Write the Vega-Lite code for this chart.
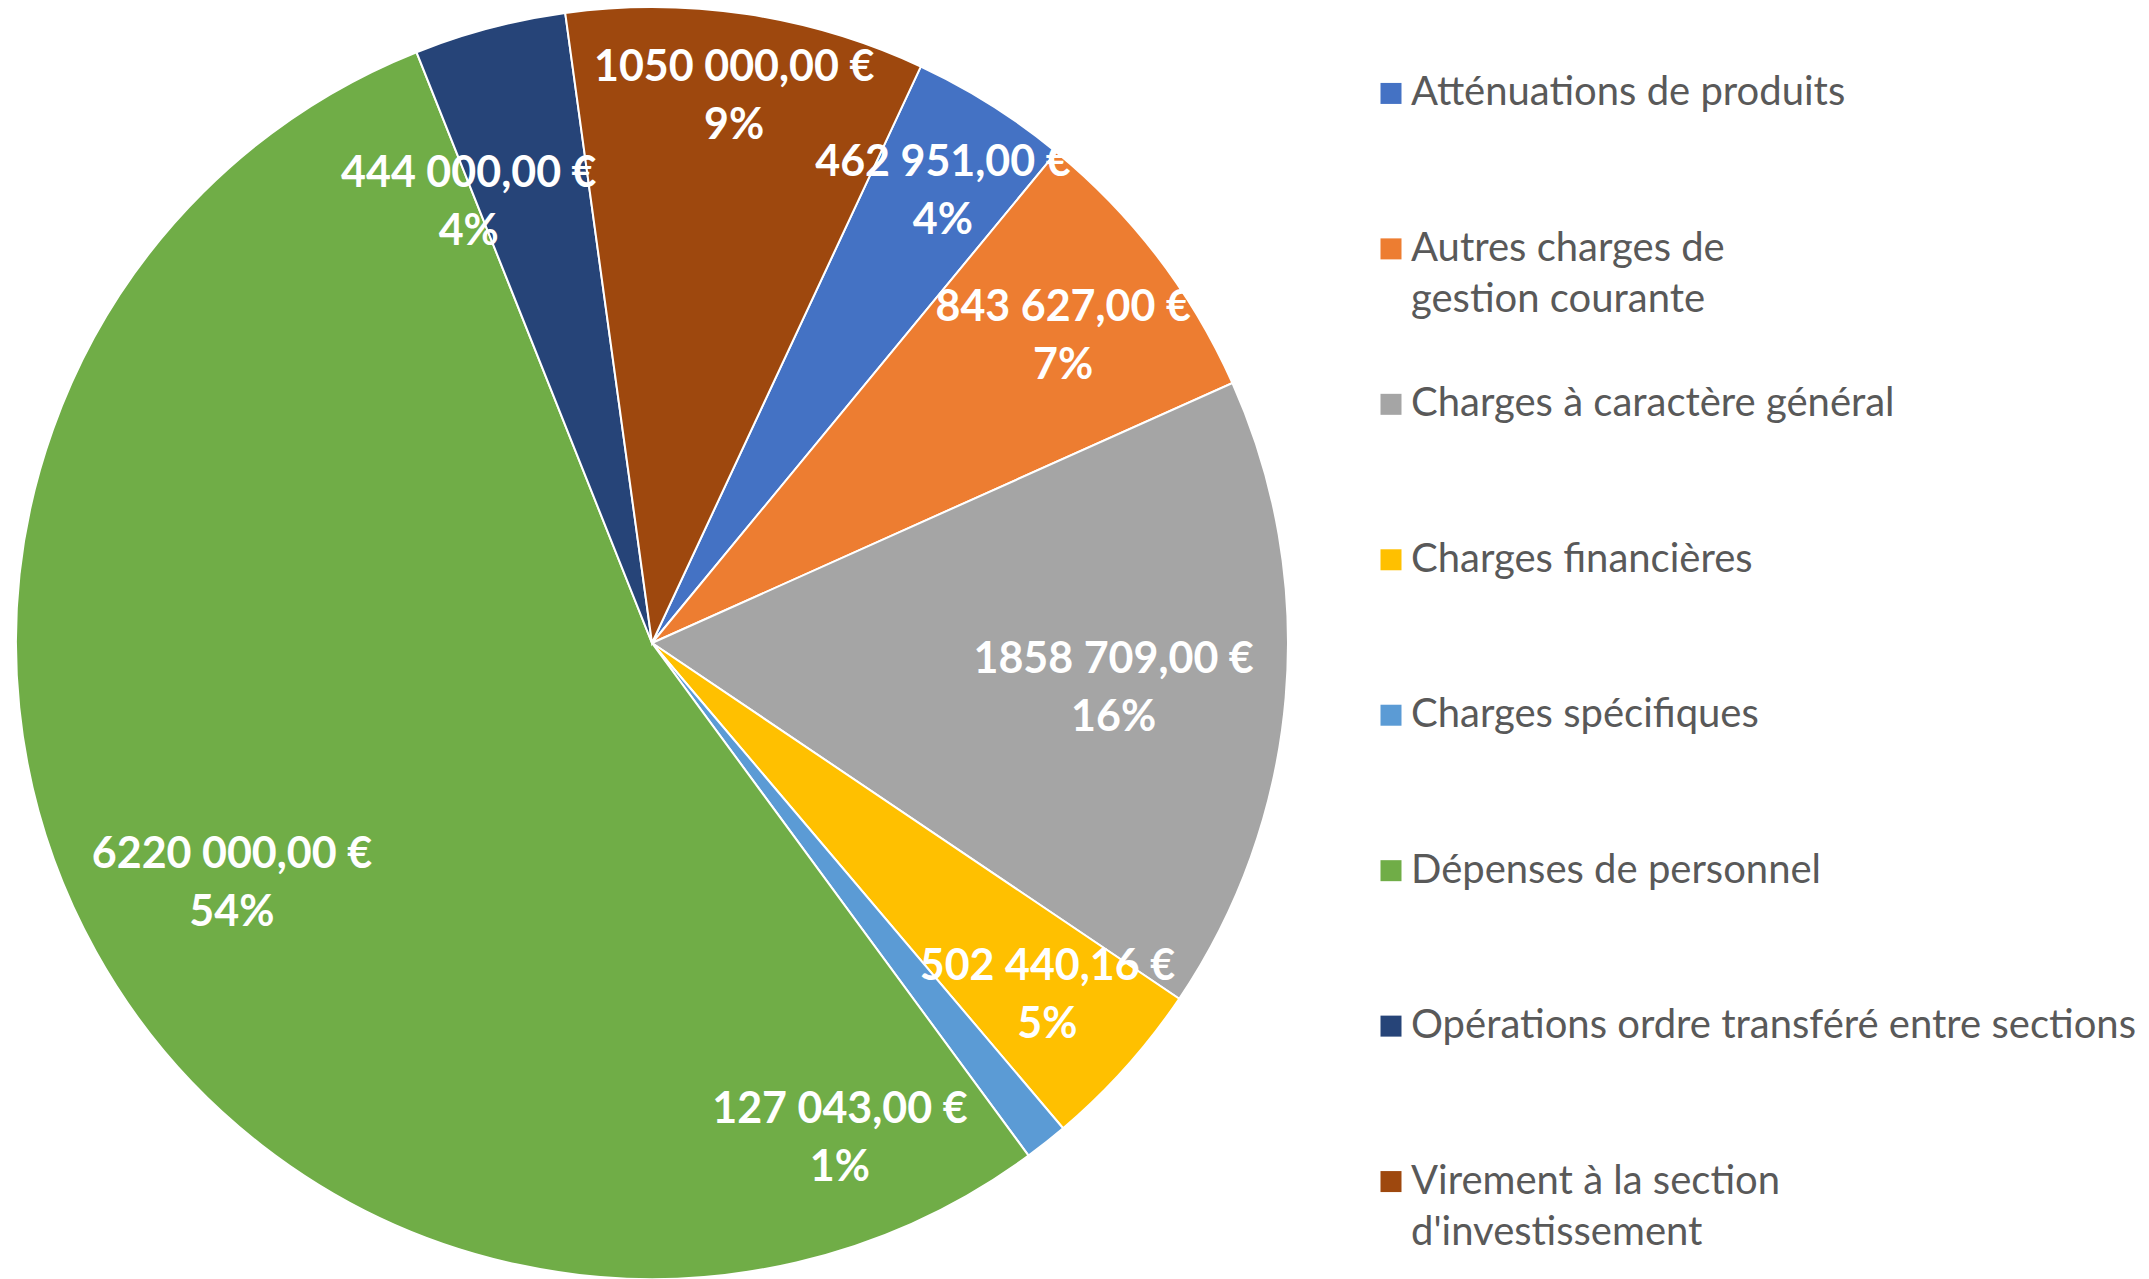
{
  "$schema": "https://vega.github.io/schema/vega-lite/v6.json",
  "background": "white",
  "padding": {"left": 12, "top": 3, "right": 0, "bottom": 0},
  "bounds": "flush",
  "spacing": 92,
  "config": {"view": {"stroke": null}, "font": "Lato", "text": {"font": "Lato", "fontWeight": "bold", "fontSize": 43, "lineHeight": 58, "color": "white", "baseline": "line-bottom", "align": "center"}},
  "data": {
    "values": [
      {"order": 1, "cat": "Atténuations de produits", "value": 462951, "label": ["462 951,00 €", "4%"], "legend": "Atténuations de produits"},
      {"order": 2, "cat": "Autres charges de gestion courante", "value": 843627, "label": ["843 627,00 €", "7%"], "legend": ["Autres charges de", "gestion courante"]},
      {"order": 3, "cat": "Charges à caractère général", "value": 1858709, "label": ["1858 709,00 €", "16%"], "legend": "Charges à caractère général"},
      {"order": 4, "cat": "Charges financières", "value": 502440.16, "label": ["502 440,16 €", "5%"], "legend": "Charges financières"},
      {"order": 5, "cat": "Charges spécifiques", "value": 127043, "label": ["127 043,00 €", "1%"], "legend": "Charges spécifiques"},
      {"order": 6, "cat": "Dépenses de personnel", "value": 6220000, "label": ["6220 000,00 €", "54%"], "legend": "Dépenses de personnel"},
      {"order": 7, "cat": "Opérations ordre transféré entre sections", "value": 444000, "label": ["444 000,00 €", "4%"], "legend": "Opérations ordre transféré entre sections"},
      {"order": 8, "cat": "Virement à la section d'investissement", "value": 1050000, "label": ["1050 000,00 €", "9%"], "legend": ["Virement à la section", "d'investissement"]}
    ]
  },
  "hconcat": [
    {
      "width": 1272,
      "height": 1272,
      "encoding": {
        "theta": {"field": "value", "type": "quantitative", "stack": true, "scale": {"range": [0.43633, 6.71951]}},
        "order": {"field": "order", "type": "quantitative"},
        "detail": {"field": "cat", "type": "nominal"}
      },
      "layer": [
        {
          "mark": {"type": "arc", "radius": 636, "stroke": "white", "strokeWidth": 2},
          "encoding": {
            "color": {
              "field": "cat", "type": "nominal", "legend": null,
              "scale": {
                "domain": ["Atténuations de produits", "Autres charges de gestion courante", "Charges à caractère général", "Charges financières", "Charges spécifiques", "Dépenses de personnel", "Opérations ordre transféré entre sections", "Virement à la section d'investissement"],
                "range": ["#4472C4", "#ED7D31", "#A5A5A5", "#FFC000", "#5B9BD5", "#70AD47", "#264478", "#9E480E"]
              }
            }
          }
        },
        {
          "mark": {"type": "text", "radius": 536, "thetaOffset": 0.011},
          "encoding": {"text": {"condition": {"test": "datum.order !== 1", "value": ""}, "field": "label", "type": "nominal"}}
        },
        {
          "mark": {"type": "text", "radius": 512, "thetaOffset": 0.013},
          "encoding": {"text": {"condition": {"test": "datum.order !== 2", "value": ""}, "field": "label", "type": "nominal"}}
        },
        {
          "mark": {"type": "text", "radius": 464, "thetaOffset": 0.015},
          "encoding": {"text": {"condition": {"test": "datum.order !== 3", "value": ""}, "field": "label", "type": "nominal"}}
        },
        {
          "mark": {"type": "text", "radius": 531},
          "encoding": {"text": {"condition": {"test": "datum.order !== 4", "value": ""}, "field": "label", "type": "nominal"}}
        },
        {
          "mark": {"type": "text", "radius": 531, "thetaOffset": 0.3065},
          "encoding": {"text": {"condition": {"test": "datum.order !== 5", "value": ""}, "field": "label", "type": "nominal"}}
        },
        {
          "mark": {"type": "text", "radius": 485, "thetaOffset": -0.017},
          "encoding": {"text": {"condition": {"test": "datum.order !== 6", "value": ""}, "field": "label", "type": "nominal"}}
        },
        {
          "mark": {"type": "text", "radius": 476, "thetaOffset": -0.137},
          "encoding": {"text": {"condition": {"test": "datum.order !== 7", "value": ""}, "field": "label", "type": "nominal"}}
        },
        {
          "mark": {"type": "text", "radius": 551},
          "encoding": {"text": {"condition": {"test": "datum.order !== 8", "value": ""}, "field": "label", "type": "nominal"}}
        }
      ]
    },
    {
      "width": 22,
      "height": 1261,
      "encoding": {
        "y": {"field": "cat", "type": "nominal", "sort": {"field": "order", "op": "min"}, "scale": {"type": "point", "padding": 0.556}, "axis": null}
      },
      "layer": [
        {
          "mark": {"type": "square", "size": 441, "opacity": 1, "filled": true},
          "encoding": {
            "color": {
              "field": "cat", "type": "nominal", "legend": null,
              "scale": {
                "domain": ["Atténuations de produits", "Autres charges de gestion courante", "Charges à caractère général", "Charges financières", "Charges spécifiques", "Dépenses de personnel", "Opérations ordre transféré entre sections", "Virement à la section d'investissement"],
                "range": ["#4472C4", "#ED7D31", "#A5A5A5", "#FFC000", "#5B9BD5", "#70AD47", "#264478", "#9E480E"]
              }
            }
          }
        },
        {
          "mark": {"type": "text", "align": "left", "baseline": "middle", "dx": 20, "font": "Lato", "fontWeight": "normal", "fontSize": 40, "lineHeight": 51, "color": "#595959"},
          "encoding": {"text": {"field": "legend", "type": "nominal"}}
        }
      ]
    }
  ]
}
